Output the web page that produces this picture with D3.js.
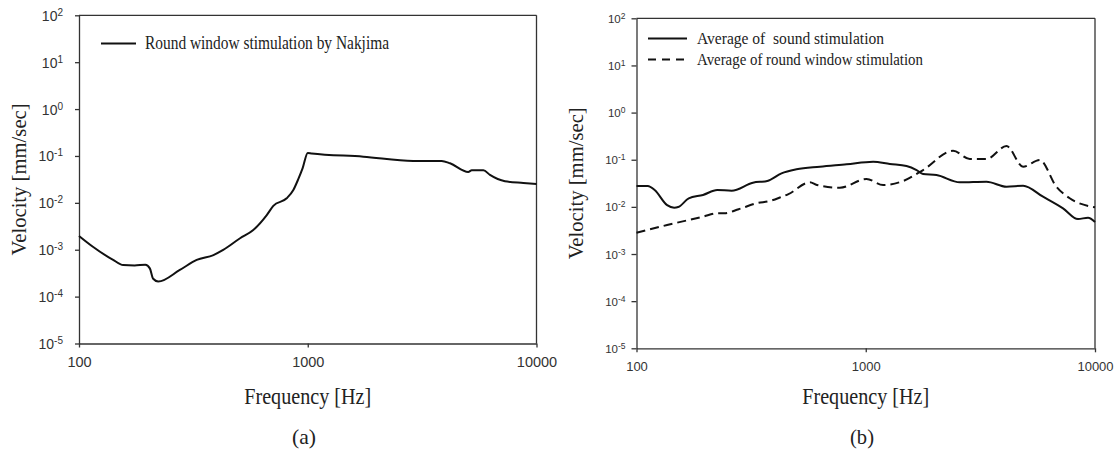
<!DOCTYPE html>
<html>
<head>
<meta charset="utf-8">
<script src="https://cdn.jsdelivr.net/npm/d3@7"></script>
<style>
  body { margin: 0; background: #fff; }
  svg { display: block; }
</style>
</head>
<body>
<div id="chart"></div>
<script>
// ---- data ----
// (a) round window stimulation by Nakjima
var freqA = [100, 115, 141, 156, 175, 195, 204, 211, 222, 276, 327, 387, 427, 506, 578, 662, 707, 809, 865, 909, 950, 1000, 1040, 1750, 2890, 3850, 4190, 5030, 5210, 5860, 6260, 7280, 8760, 10000];
var velA = [0.00197, 0.00116, 0.000606, 0.00047, 0.00046, 0.00048, 0.00040, 0.00024, 0.000209, 0.000371, 0.000606, 0.00077, 0.00099, 0.00176, 0.00264, 0.0055, 0.0086, 0.0125, 0.0188, 0.032, 0.055, 0.116, 0.113, 0.0966, 0.0782, 0.0782, 0.0699, 0.0456, 0.0496, 0.0496, 0.0394, 0.0289, 0.0266, 0.0253];

// (b) average of sound stimulation
var freqSound = [100, 112, 120, 136, 146, 152, 169, 195, 225, 260, 322, 372, 429, 499, 631, 825, 1077, 1274, 1506, 1666, 1779, 2035, 2572, 3363, 4111, 4856, 5934, 7253, 8432, 9322, 10000];
var velSound = [0.0277, 0.0277, 0.0228, 0.0109, 0.0096, 0.0099, 0.0152, 0.0179, 0.0228, 0.022, 0.0326, 0.0354, 0.0515, 0.0627, 0.0711, 0.080, 0.0908, 0.0811, 0.0736, 0.0605, 0.0498, 0.0474, 0.0332, 0.0342, 0.0268, 0.0281, 0.0164, 0.0093, 0.0055, 0.0059, 0.0048];

// (b) average of round window stimulation
var freqRW = [100, 136, 195, 225, 242, 279, 333, 385, 422, 460, 571, 612, 771, 1008, 1191, 1456, 1779, 2404, 2844, 3363, 4111, 4856, 5741, 6788, 7757, 10000];
var velRW = [0.00283, 0.00412, 0.00618, 0.0073, 0.0073, 0.0089, 0.0119, 0.0135, 0.0158, 0.0187, 0.0332, 0.0291, 0.0255, 0.039, 0.0291, 0.0354, 0.0605, 0.155, 0.1035, 0.1035, 0.195, 0.0711, 0.0986, 0.0268, 0.0152, 0.0098];

var xTicks = [100, 1000, 10000];
var yExps = [2, 1, 0, -1, -2, -3, -4, -5];

var serif = "'Liberation Serif', 'Times New Roman', serif";
var sans = "'Liberation Sans', Arial, sans-serif";

var svg = d3.select("#chart")
    .append("svg")
    .attr("width", 1120)
    .attr("height", 454);

svg.append("rect").attr("width", 1120).attr("height", 454).attr("fill", "#fff");

function drawPanel(p) {
    var x = d3.scaleLog().domain([100, 10000]).range([p.left, p.right]);
    var y = d3.scaleLog().domain([1e-5, 1e2]).range([p.bottom, p.top]);
    var g = svg.append("g");

    // x axis
    var gx = g.append("g")
        .attr("transform", "translate(0," + p.bottom + ")")
        .call(d3.axisBottom(x).tickValues(xTicks).tickFormat(d3.format("d"))
            .tickSize(4).tickSizeOuter(0).tickPadding(p.xPad));
    gx.selectAll("text")
        .style("font-family", sans)
        .style("font-size", p.xFont + "px")
        .attr("fill", "#333");

    // y axis, labels drawn as 10^n
    var gy = g.append("g")
        .attr("transform", "translate(" + p.left + ",0)")
        .call(d3.axisLeft(y).tickValues(yExps.map(function(e) { return Math.pow(10, e); }))
            .tickSize(p.yTick).tickSizeOuter(0).tickFormat(""));
    gy.selectAll(".tick").each(function(d) {
        var t = d3.select(this).append("text")
            .attr("x", -p.yGap)
            .attr("y", p.yBase)
            .attr("text-anchor", "end")
            .attr("fill", "#333")
            .style("font-family", sans)
            .style("font-size", p.yFont + "px")
            .text("10");
        t.append("tspan")
            .attr("dy", -p.supRise)
            .style("font-size", p.supFont + "px")
            .text(String(Math.round(Math.log10(d))));
    });

    [gx, gy].forEach(function(a) {
        a.selectAll("path, line").attr("stroke", "#333").attr("stroke-width", 1.3);
    });

    // frame top + right
    g.append("line").attr("x1", p.left).attr("x2", p.right).attr("y1", p.top).attr("y2", p.top)
        .attr("stroke", "#333").attr("stroke-width", 1.3);
    g.append("line").attr("x1", p.right).attr("x2", p.right).attr("y1", p.top).attr("y2", p.bottom)
        .attr("stroke", "#333").attr("stroke-width", 1.3);

    // axis titles
    g.append("text")
        .attr("transform", "translate(" + p.yLabelX + "," + ((p.top + p.bottom) / 2) + ") rotate(-90)")
        .attr("text-anchor", "middle")
        .attr("textLength", 152).attr("lengthAdjust", "spacingAndGlyphs")
        .style("font-family", serif).style("font-size", "20px").attr("fill", "#222")
        .text("Velocity [mm/sec]");
    g.append("text")
        .attr("x", (p.left + p.right) / 2).attr("y", 404)
        .attr("text-anchor", "middle")
        .attr("textLength", 127).attr("lengthAdjust", "spacingAndGlyphs")
        .style("font-family", serif).style("font-size", "23px").attr("fill", "#222")
        .text("Frequency [Hz]");
    g.append("text")
        .attr("x", p.capX).attr("y", 444)
        .attr("text-anchor", "middle")
        .attr("textLength", 24).attr("lengthAdjust", "spacingAndGlyphs")
        .style("font-family", serif).style("font-size", "21px").attr("fill", "#222")
        .text(p.caption);

    // curves
    var line = d3.line()
        .x(function(d) { return x(d[0]); })
        .y(function(d) { return y(d[1]); })
        .curve(d3.curveMonotoneX);

    p.series.forEach(function(s) {
        g.append("path")
            .datum(d3.zip(s.f, s.v))
            .attr("d", line)
            .attr("fill", "none")
            .attr("stroke", "#111")
            .attr("stroke-width", 2)
            .attr("stroke-dasharray", s.dash ? "9,5" : null);

        // legend entry
        g.append("line")
            .attr("x1", s.lx).attr("x2", s.lx + s.lw)
            .attr("y1", s.ly).attr("y2", s.ly)
            .attr("stroke", "#111").attr("stroke-width", 2)
            .attr("stroke-dasharray", s.dash ? "8,6" : null);
        g.append("text")
            .attr("x", s.tx).attr("y", s.ly + 5.5)
            .attr("textLength", s.tw).attr("lengthAdjust", "spacingAndGlyphs")
            .attr("xml:space", "preserve")
            .style("font-family", serif).style("font-size", s.fs + "px").attr("fill", "#222")
            .text(s.name);
    });
}

drawPanel({
    left: 79, right: 536.5, top: 15.3, bottom: 343.5,
    xFont: 14.5, xPad: 9, yFont: 14, supFont: 10, supRise: 5, yTick: 4, yGap: 16, yBase: 5,
    yLabelX: 25.5, capX: 304, caption: "(a)",
    series: [
        {name: "Round window stimulation by Nakjima", f: freqA, v: velA, dash: false,
         lx: 101, lw: 35, ly: 43.5, tx: 145, tw: 244, fs: 18}
    ]
});

drawPanel({
    left: 636.5, right: 1095, top: 18.3, bottom: 348.3,
    xFont: 13, xPad: 9, yFont: 11.5, supFont: 8.5, supRise: 4, yTick: 5, yGap: 11, yBase: 4,
    yLabelX: 583, capX: 862, caption: "(b)",
    series: [
        {name: "Average of  sound stimulation", f: freqSound, v: velSound, dash: false,
         lx: 648, lw: 39, ly: 38.5, tx: 697, tw: 187, fs: 17},
        {name: "Average of round window stimulation", f: freqRW, v: velRW, dash: true,
         lx: 648, lw: 39, ly: 59.5, tx: 697, tw: 226, fs: 17}
    ]
});
</script>
</body>
</html>
